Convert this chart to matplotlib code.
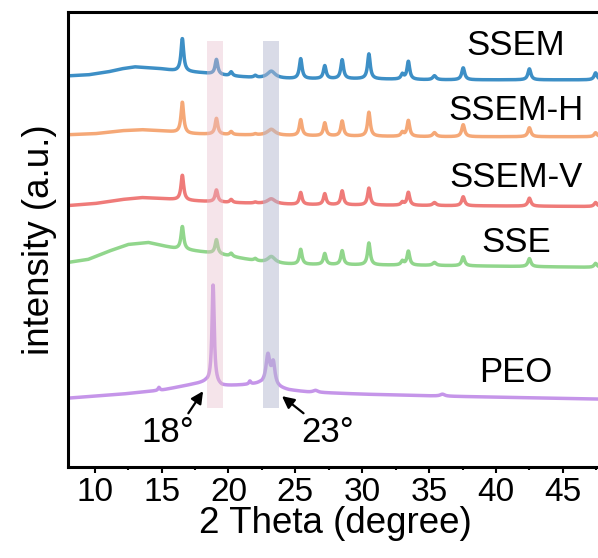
"""
XRD patterns: SSEM, SSEM-H, SSEM-V, SSE, PEO
"""

import numpy as np
import matplotlib.pyplot as plt

plt.rcParams['font.family'] = ['Liberation Sans', 'DejaVu Sans']

# 2-theta positions of the crystalline reflections (degree)
peak_pos = [16.55, 19.1, 20.2, 22.0, 23.2, 25.4, 27.2, 28.5, 30.5, 33.0, 33.45, 35.4, 37.55, 42.5, 47.45]
peak_wid = [0.12, 0.12, 0.12, 0.12, 0.35, 0.12, 0.12, 0.12, 0.12, 0.12, 0.12, 0.15, 0.13, 0.13, 0.13]

# peak heights above the background (a.u.)
ssem_h   = [33, 15, 4, 2, 7, 20, 13, 19, 25, 5, 18, 4, 12, 11, 7]
ssemh_h  = [31, 16, 3, 1, 6, 16, 13, 15, 24, 4, 16, 4, 12, 9, 4]
ssemv_h  = [25, 12, 3, 1, 5, 12, 11, 14, 17, 3, 13, 3, 9, 8, 4]
sse_h    = [23, 14, 3, 2, 7, 15, 11, 14, 22, 4, 14, 3, 9, 8, 4]

# background (amorphous hump) anchor points: 2-theta, intensity
ssem_bg_x  = [8, 9.5, 11, 12, 13, 14, 15, 16, 18, 20, 22, 25, 30, 35, 40, 48]
ssem_bg_y  = [392, 393, 396, 399, 401, 400, 399, 397, 395, 392, 390, 389, 389, 388, 388, 388]
ssemh_bg_x = [8, 10, 12, 13.5, 15, 17, 20, 25, 35, 48]
ssemh_bg_y = [333, 334, 337, 338, 337, 334, 333, 332, 331, 331]
ssemv_bg_x = [8, 10, 12, 13.5, 15, 17, 20, 25, 35, 48]
ssemv_bg_y = [262, 264, 268, 270, 269, 267, 265, 263, 262, 261]
sse_bg_x   = [8, 9.5, 11, 12.5, 14, 15, 16, 19, 21, 23, 25, 35, 48]
sse_bg_y   = [205, 208, 216, 223, 225, 222, 219, 214, 209, 204, 203, 202, 200]

# PEO
peo_bg_x = [8, 12, 15, 17, 18.3, 19.5, 21, 22.3, 24.5, 26, 30, 36, 48]
peo_bg_y = [69, 73, 77, 82, 85, 81, 82, 83, 77, 75, 73, 71, 68]
peo_pos = [14.8, 18.85, 21.6, 22.95, 23.35, 26.5, 36.0]
peo_wid = [0.08, 0.1, 0.08, 0.18, 0.15, 0.2, 0.2]
peo_h   = [3, 100, 3, 30, 22, 2, 2]

labels = ['SSEM', 'SSEM-H', 'SSEM-V', 'SSE', 'PEO']
colors = ['#3d8fc6', '#f5a877', '#ef7b79', '#91d68c', '#c595e9']


def pattern(x, bg_x, bg_y, pos, wid, h):
    y = np.interp(x, bg_x, bg_y)
    for p, w, a in zip(pos, wid, h):
        y = y + a / (1 + ((x - p) / w) ** 2)
    return y


tt = np.arange(8, 48.01, 0.02)
curves = [
    pattern(tt, ssem_bg_x, ssem_bg_y, peak_pos, peak_wid, ssem_h),
    pattern(tt, ssemh_bg_x, ssemh_bg_y, peak_pos, peak_wid, ssemh_h),
    pattern(tt, ssemv_bg_x, ssemv_bg_y, peak_pos, peak_wid, ssemv_h),
    pattern(tt, sse_bg_x, sse_bg_y, peak_pos, peak_wid, sse_h),
    pattern(tt, peo_bg_x, peo_bg_y, peo_pos, peo_wid, peo_h),
]
label_y = [413, 348, 281, 215, 85]

fig = plt.figure(figsize=(5.98, 5.58), dpi=100)
ax = fig.add_axes([0.1137, 0.1631, 0.8946, 0.8154])

for c, col in zip(curves, colors):
    ax.plot(tt, c, color=col, lw=2.5, zorder=2)
for lab, ly in zip(labels, label_y):
    ax.text(41.5, ly, lab, fontsize=25, ha='center', va='baseline')

# highlighted reflections
ax.axvspan(18.37, 19.57, ymin=0.129, ymax=0.936, color='#e8bccb', alpha=0.4, lw=0, zorder=3)
ax.axvspan(22.56, 23.76, ymin=0.129, ymax=0.936, color='#b4b8d0', alpha=0.5, lw=0, zorder=3)

ax.annotate('18°', xy=(18.1, 76), xytext=(15.48, 25), fontsize=25, ha='center', va='baseline',
            arrowprops=dict(arrowstyle='-|>', color='black', lw=1.6, shrinkA=0, shrinkB=0,
                            mutation_scale=18, relpos=(0.85, 1.0)))
ax.annotate('23°', xy=(24.0, 71), xytext=(27.45, 25), fontsize=25, ha='center', va='baseline',
            arrowprops=dict(arrowstyle='-|>', color='black', lw=1.6, shrinkA=0, shrinkB=0,
                            mutation_scale=18, relpos=(0.1, 1.0)))

ax.set_xlim(8, 48)
ax.set_ylim(0, 456)
ax.set_xticks(np.arange(10, 46, 5))
ax.set_xticks(np.arange(12.5, 48, 5), minor=True)
ax.set_yticks([])
ax.tick_params(axis='x', which='major', direction='out', length=4, width=1.5, labelsize=24, pad=3)
ax.tick_params(axis='x', which='minor', direction='out', length=2.5, width=1.5)
for s in ax.spines.values():
    s.set_linewidth(2.2)
ax.set_xlabel('2 Theta (degree)', fontsize=26.5, labelpad=-1)
ax.set_ylabel('intensity (a.u.)', fontsize=26.5, labelpad=8)

plt.savefig('out.png', dpi=100)
